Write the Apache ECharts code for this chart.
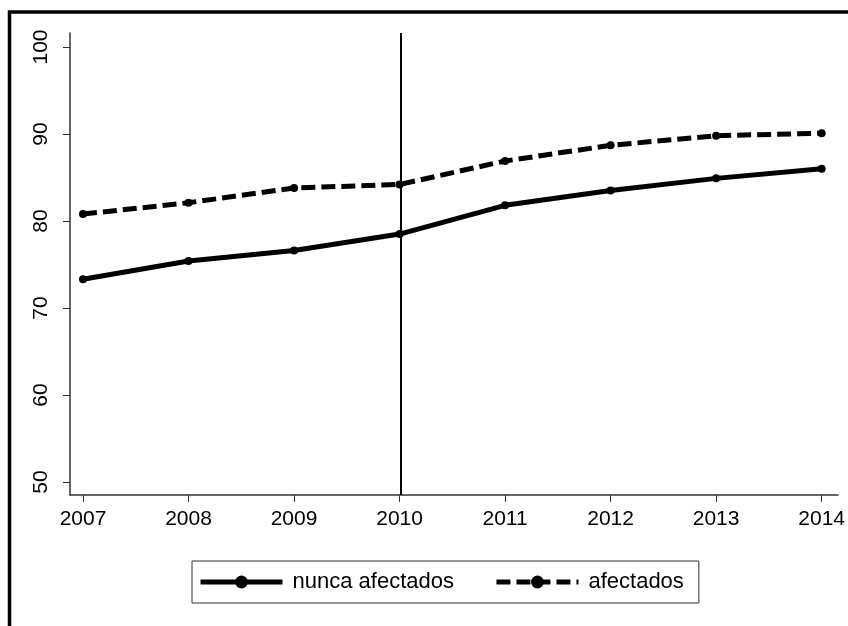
<!DOCTYPE html>
<html>
<head>
<meta charset="utf-8">
<script src="https://cdn.jsdelivr.net/npm/echarts@6/dist/echarts.min.js"></script>
<style>
html,body{margin:0;padding:0;background:#fff;}
#chart{width:848px;height:626px;}
</style>
</head>
<body>
<div id="chart"></div>
<script>
// Data
const years = [2007, 2008, 2009, 2010, 2011, 2012, 2013, 2014];
const nuncaAfectados = [73.3, 75.4, 76.6, 78.5, 81.8, 83.5, 84.9, 86.0];
const afectados = [80.8, 82.1, 83.8, 84.2, 86.9, 88.7, 89.8, 90.1];
const seriesNames = ['nunca afectados', 'afectados'];
const eventYear = 2010;
const yTicks = [50, 60, 70, 80, 90, 100];

const FONT = 'Liberation Sans, Arial, sans-serif';
const chart = echarts.init(document.getElementById('chart'), null, {renderer: 'canvas'});

const pairs = (vals) => years.map((y, i) => [y, vals[i]]);

chart.setOption({
  backgroundColor: '#fff',
  animation: false,
  graphic: [{
    type: 'rect', z: 100,
    shape: {x: 9.5, y: 12, width: 900, height: 700},
    style: {fill: 'none', stroke: '#000', lineWidth: 3.5}
  }],
  grid: [
    {left: 83, right: 23, top: 47, bottom: 144},
    {left: 70, right: 10, top: 33, bottom: 131}
  ],
  xAxis: [
    {
      gridIndex: 0, type: 'value', min: years[0], max: years[years.length - 1], interval: 1,
      offset: 13,
      axisLine: {show: false},
      axisTick: {show: true, length: 7, lineStyle: {color: '#333', width: 1}},
      axisLabel: {margin: 14, fontFamily: FONT, fontSize: 21, color: '#000',
                  formatter: v => String(v)},
      splitLine: {show: false}
    },
    {
      gridIndex: 1, type: 'value', min: 2007 - 0.1226, max: 2014 + 0.1226,
      axisLine: {show: true, onZero: false, lineStyle: {color: '#333', width: 1.5}},
      axisTick: {show: false}, axisLabel: {show: false}, splitLine: {show: false}
    }
  ],
  yAxis: [
    {
      gridIndex: 0, type: 'value', min: yTicks[0], max: yTicks[yTicks.length - 1], interval: 10,
      offset: 13,
      axisLine: {show: false},
      axisTick: {show: true, length: 7, lineStyle: {color: '#333', width: 1}},
      axisLabel: {margin: 18, rotate: 90, fontFamily: FONT, fontSize: 21, color: '#000'},
      splitLine: {show: false}
    },
    {
      gridIndex: 1, type: 'value', min: 50 - 13 / 8.7, max: 100 + 14 / 8.7,
      axisLine: {show: true, onZero: false, lineStyle: {color: '#333', width: 1.5}},
      axisTick: {show: false}, axisLabel: {show: false}, splitLine: {show: false}
    }
  ],
  legend: {
    data: seriesNames,
    left: 192, top: 561,
    orient: 'horizontal',
    padding: [10, 15, 10, 6],
    itemGap: 40,
    itemWidth: 82, itemHeight: 16,
    borderColor: '#333', borderWidth: 1,
    lineStyle: {width: 5},
    itemStyle: {borderWidth: 0},
    textStyle: {fontFamily: FONT, fontSize: 22, color: '#000', padding: [0, 0, 0, 5]}
  },
  series: [
    {
      name: seriesNames[0], type: 'line', xAxisIndex: 0, yAxisIndex: 0,
      data: pairs(nuncaAfectados),
      symbol: 'circle', symbolSize: 8,
      itemStyle: {color: '#000'},
      lineStyle: {color: '#000', width: 5, type: 'solid'}
    },
    {
      name: seriesNames[1], type: 'line', xAxisIndex: 0, yAxisIndex: 0,
      data: pairs(afectados),
      symbol: 'circle', symbolSize: 8,
      itemStyle: {color: '#000'},
      lineStyle: {color: '#000', width: 5, type: [14, 6], cap: 'butt'}
    },
    {
      type: 'line', xAxisIndex: 1, yAxisIndex: 1, data: [], z: 5,
      markLine: {
        silent: true, symbol: 'none', animation: false,
        label: {show: false},
        lineStyle: {color: '#000', width: 2, type: 'solid'},
        data: [{xAxis: eventYear}]
      }
    }
  ]
});
</script>
</body>
</html>
